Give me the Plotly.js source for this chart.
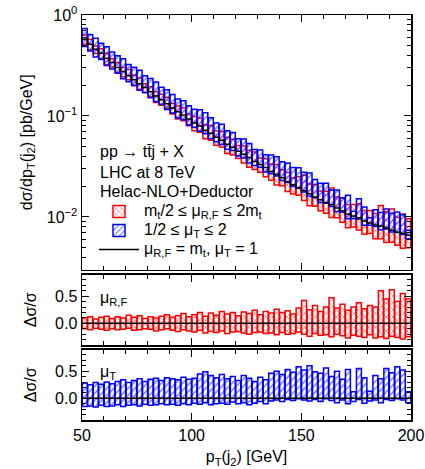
<!DOCTYPE html>
<html><head><meta charset="utf-8">
<script src="https://cdn.plot.ly/plotly-3.0.1.min.js"></script>
<style>body{margin:0;background:#fff;}</style>
</head><body><div id="chart" style="width:425px;height:469px;"></div>
<script>
// bin centres of pT(j2) [GeV]
const pT = [51.25,53.75,56.25,58.75,61.25,63.75,66.25,68.75,71.25,73.75,76.25,78.75,81.25,83.75,86.25,88.75,91.25,93.75,96.25,98.75,
 101.25,103.75,106.25,108.75,111.25,113.75,116.25,118.75,121.25,123.75,126.25,128.75,131.25,133.75,136.25,138.75,141.25,143.75,146.25,148.75,
 151.25,153.75,156.25,158.75,161.25,163.75,166.25,168.75,171.25,173.75,176.25,178.75,181.25,183.75,186.25,188.75,191.25,193.75,196.25,198.75];
const binWidth = 2.5;
// central prediction dσ/dpT [pb/GeV]
const central = [0.575,0.513,0.457,0.417,0.372,0.339,0.302,0.275,0.251,0.229,0.209,0.191,0.174,0.158,0.145,0.132,0.120,0.110,0.102,0.0933,
 0.0851,0.0794,0.0724,0.0676,0.0617,0.0575,0.0525,0.0490,0.0447,0.0417,0.0389,0.0355,0.0331,0.0309,0.0282,0.0263,0.0245,0.0224,0.0209,0.0195,
 0.0182,0.0170,0.0158,0.0148,0.0138,0.0132,0.0123,0.0115,0.0107,0.0102,0.00977,0.00912,0.00871,0.00832,0.00813,0.00776,0.00741,0.00708,0.00692,0.00661];
// relative variation mu_R,F (upper / lower)
const rfUp = [0.10,0.12,0.08,0.11,0.13,0.09,0.12,0.10,0.15,0.11,0.14,0.09,0.12,0.10,0.13,0.16,0.11,0.14,0.18,0.12,
 0.16,0.20,0.13,0.19,0.15,0.22,0.17,0.20,0.14,0.21,0.18,0.24,0.16,0.22,0.19,0.26,0.20,0.23,0.17,0.28,
 0.42,0.25,0.33,0.22,0.30,0.47,0.28,0.35,0.24,0.30,0.38,0.27,0.33,0.30,0.60,0.45,0.62,0.40,0.55,0.45];
const rfDown = [-0.10,-0.12,-0.09,-0.11,-0.13,-0.10,-0.12,-0.11,-0.09,-0.13,-0.12,-0.10,-0.11,-0.14,-0.12,-0.10,-0.13,-0.15,-0.12,-0.14,
 -0.16,-0.13,-0.18,-0.15,-0.17,-0.14,-0.19,-0.16,-0.15,-0.18,-0.20,-0.17,-0.16,-0.19,-0.18,-0.21,-0.17,-0.20,-0.19,-0.16,
 -0.20,-0.24,-0.19,-0.22,-0.21,-0.25,-0.20,-0.23,-0.27,-0.22,-0.24,-0.26,-0.21,-0.27,-0.25,-0.28,-0.24,-0.26,-0.29,-0.25];
// relative variation mu_T (upper / lower)
const tUp = [0.28,0.25,0.29,0.26,0.30,0.27,0.31,0.34,0.29,0.33,0.36,0.31,0.35,0.37,0.33,0.38,0.36,0.34,0.39,0.35,
 0.37,0.45,0.49,0.42,0.38,0.44,0.36,0.40,0.33,0.42,0.37,0.31,0.39,0.34,0.46,0.50,0.44,0.53,0.48,0.58,
 0.52,0.60,0.49,0.46,0.56,0.40,0.50,0.35,0.53,0.12,0.55,0.38,0.13,0.42,0.36,0.55,0.47,0.58,0.52,0.12];
const tDown = [-0.15,-0.14,-0.16,-0.13,-0.15,-0.14,-0.12,-0.15,-0.13,-0.12,-0.14,-0.11,-0.13,-0.12,-0.10,-0.12,-0.11,-0.13,-0.10,-0.12,
 -0.09,-0.11,-0.08,-0.12,-0.10,-0.09,-0.11,-0.07,-0.10,-0.08,-0.12,-0.09,-0.06,-0.10,-0.05,-0.03,-0.06,-0.02,-0.04,-0.01,
 -0.03,-0.05,-0.02,-0.06,-0.01,-0.04,-0.08,-0.03,-0.10,-0.06,-0.02,-0.09,-0.05,-0.03,-0.08,-0.02,-0.04,-0.01,-0.03,-0.08];
const yTickVals = [1, 0.1, 0.01];
const yTickText = ['10<sup>0</sup>', '10<sup>\u22121</sup>', '10<sup>\u22122</sup>'];
const xTickVals = [50, 100, 150, 200];

(function(){
const RED = '#ff0000', BLUE = '#0000ff';
const edges = pT.map(c => c - binWidth/2).concat([pT[pT.length-1] + binWidth/2]);
const centralStep = central.concat([central[central.length-1]]);
const zeroStep = centralStep.map(v => v/v - 1);

function band(lo, hi, scale) {
  return {
    base: lo.map((l,i) => scale ? scale[i]*(1+l) : l),
    y: hi.map((h,i) => scale ? scale[i]*(h-lo[i]) : h-lo[i])
  };
}
function barTrace(b, color, shape, xa, ya, name, showleg) {
  return {type:'bar', x:pT, y:b.y, base:b.base, width:binWidth*0.9, xaxis:xa, yaxis:ya,
    name:name, showlegend:showleg, hoverinfo:'skip',
    marker:{color:'rgba(0,0,0,0)', line:{color:color, width:1.5},
      pattern:{shape:shape, fgcolor:color, bgcolor:'rgba(0,0,0,0)', size:5, solidity:0.3, fillmode:'overlay'}}};
}
const big = s => '<span style="font-size:16px">' + s + '</span>';
const rfTop = band(rfDown, rfUp, central), tTop = band(tDown, tUp, central);
const rfRat = band(rfDown, rfUp), tRat = band(tDown, tUp);

const traces = [
  barTrace(rfTop, RED, 'x', 'x', 'y', big('m<sub>t</sub>/2 \u2264 \u03bc<sub>R,F</sub> \u2264 2m<sub>t</sub>'), true),
  barTrace(tTop, BLUE, '/', 'x', 'y', big('1/2 \u2264 \u03bc<sub>T</sub> \u2264 2'), true),
  {type:'scatter', mode:'lines', x:edges, y:centralStep, line:{shape:'hv', color:'#000', width:1.5}, xaxis:'x', yaxis:'y',
   name:big('\u03bc<sub>R,F</sub> = m<sub>t</sub>, \u03bc<sub>T</sub> = 1'), hoverinfo:'skip'},
  barTrace(rfRat, RED, 'x', 'x2', 'y2', 'rf', false),
  {type:'scatter', mode:'lines', x:edges, y:zeroStep, line:{shape:'hv', color:'#000', width:1.5}, xaxis:'x2', yaxis:'y2', showlegend:false, hoverinfo:'skip'},
  barTrace(tRat, BLUE, '/', 'x3', 'y3', 't', false),
  {type:'scatter', mode:'lines', x:edges, y:zeroStep, line:{shape:'hv', color:'#000', width:1.5}, xaxis:'x3', yaxis:'y3', showlegend:false, hoverinfo:'skip'}
];

const FONT = 'Liberation Sans, Arial, sans-serif';
const axBase = {showline:true, mirror:'ticks', linecolor:'#000', linewidth:1.5, ticks:'inside', ticklen:7, tickwidth:1, tickcolor:'#000',
  showgrid:false, zeroline:false, tickfont:{family:FONT, size:16, color:'#000'}};
function xAx(extra){ return Object.assign({}, axBase, {range:[50,200], tickmode:'array', tickvals:xTickVals,
  minor:{ticks:'inside', ticklen:4, dtick:10, tick0:50, tickcolor:'#000'}}, extra); }
const minorLog = [];
[0.001, 0.01, 0.1].forEach(d => { for (let k=2;k<=9;k++) minorLog.push(k*d); });

const H = 405, plotBottom = 420;
const fy = py => (plotBottom - py) / H;
const fx = px => (px - 82) / 329;

const layout = {
  width:425, height:469, margin:{l:82, r:14, t:15, b:49},
  paper_bgcolor:'#fff', plot_bgcolor:'#fff', barmode:'overlay', bargap:0,
  font:{family:FONT, size:16, color:'#000'},
  xaxis: xAx({domain:[0,1], anchor:'y', showticklabels:false, matches:'x3'}),
  xaxis2: xAx({domain:[0,1], anchor:'y2', showticklabels:false, matches:'x3'}),
  xaxis3: xAx({domain:[0,1], anchor:'y3', title:{text:'p<sub>T</sub>(j<sub>2</sub>) [GeV]', font:{family:FONT, size:16}, standoff:8}}),
  yaxis: Object.assign({}, axBase, {domain:[fy(269.5), 1], anchor:'x', type:'log', range:[-2.52, 0], tickmode:'array',
    tickvals:yTickVals, ticktext:yTickText,
    minor:{ticks:'inside', ticklen:4, tickmode:'array', tickvals:minorLog, tickcolor:'#000'},
    title:{text:'d\u03c3/dp<sub>T</sub>(j<sub>2</sub>) [pb/GeV]', font:{family:FONT, size:16}, standoff:10}}),
  yaxis2: Object.assign({}, axBase, {domain:[fy(345), fy(274.5)], anchor:'x2', range:[-0.4, 0.9], dtick:0.5, tick0:0, tickformat:'.1f',
    minor:{ticks:'inside', ticklen:4, dtick:0.1, tick0:0, tickcolor:'#000'},
    title:{text:'\u0394\u03c3/\u03c3', font:{family:FONT, size:16}, standoff:14}}),
  yaxis3: Object.assign({}, axBase, {domain:[0, fy(349.5)], anchor:'x3', range:[-0.4, 0.9], dtick:0.5, tick0:0, tickformat:'.1f',
    minor:{ticks:'inside', ticklen:4, dtick:0.1, tick0:0, tickcolor:'#000'},
    title:{text:'\u0394\u03c3/\u03c3', font:{family:FONT, size:16}, standoff:14}}),
  legend:{x:fx(94), y:fy(197), xanchor:'left', yanchor:'top', bgcolor:'rgba(0,0,0,0)', borderwidth:0,
    font:{family:FONT, size:10.5, color:'#000'}, tracegroupgap:0, itemwidth:40, traceorder:'normal'},
  annotations:[
    {xref:'paper', yref:'paper', x:fx(98), y:fy(151), xanchor:'left', yanchor:'middle', showarrow:false, text:'pp \u2192 tt\u0304j + X', font:{family:FONT, size:16}},
    {xref:'paper', yref:'paper', x:fx(98), y:fy(172), xanchor:'left', yanchor:'middle', showarrow:false, text:'LHC at 8 TeV', font:{family:FONT, size:16}},
    {xref:'paper', yref:'paper', x:fx(98), y:fy(192), xanchor:'left', yanchor:'middle', showarrow:false, text:'Helac-NLO+Deductor', font:{family:FONT, size:16}},
    {xref:'paper', yref:'paper', x:fx(98), y:fy(298), xanchor:'left', yanchor:'middle', showarrow:false, text:'\u03bc<sub>R,F</sub>', font:{family:FONT, size:16}},
    {xref:'paper', yref:'paper', x:fx(98), y:fy(372), xanchor:'left', yanchor:'middle', showarrow:false, text:'\u03bc<sub>T</sub>', font:{family:FONT, size:16}}
  ]
};
Plotly.newPlot('chart', traces, layout, {staticPlot:true, displayModeBar:false});
})();
</script></body></html>
